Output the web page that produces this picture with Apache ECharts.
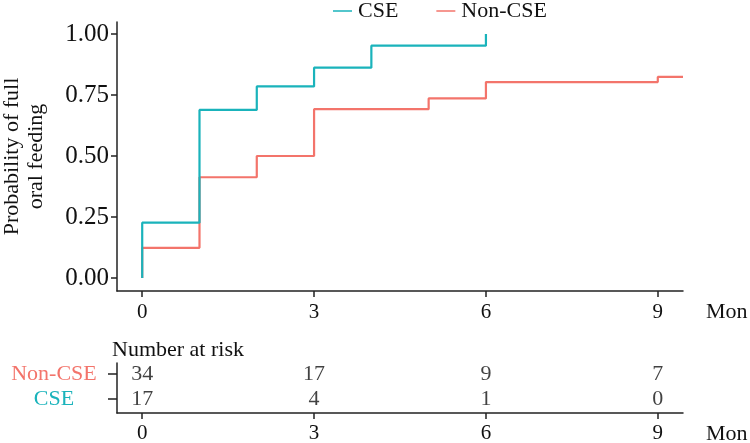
<!DOCTYPE html>
<html>
<head>
<meta charset="utf-8">
<script src="https://cdn.jsdelivr.net/npm/echarts@6/dist/echarts.min.js"></script>
<style>html,body{margin:0;padding:0;background:#fff}#c{width:750px;height:443px}</style>
</head>
<body>
<div id="c"></div>
<script>
// Kaplan-Meier step data (time in months, cumulative probability)
const cseTimes = [0, 0, 1, 2, 3, 4, 6];
const cseProb  = [0, 0.227, 0.689, 0.785, 0.862, 0.952, 1.0];
const nonTimes = [0, 0, 1, 2, 3, 5, 6, 9, 9.44];
const nonProb  = [0, 0.124, 0.413, 0.5, 0.692, 0.736, 0.803, 0.824, 0.824];
// Number at risk table
const riskTimes = [0, 3, 6, 9];
const riskNon   = [34, 17, 9, 7];
const riskCSE   = [17, 4, 1, 0];
// Axis ticks
const xTicks = [0, 3, 6, 9];
const yTicks = [0, 0.25, 0.5, 0.75, 1];
const groups = ['Non-CSE', 'CSE'];

const FONT = 'Liberation Serif';
const CSE_COLOR = '#1AB3BB';
const NON_COLOR = '#F3746B';
const AX = '#222';

const zip = (a, b) => a.map((v, i) => [v, b[i]]);

const chart = echarts.init(document.getElementById('c'), null, {renderer: 'canvas'});
chart.setOption({
  animation: false,
  backgroundColor: '#fff',
  textStyle: {fontFamily: FONT},
  legend: {
    data: ['CSE', 'Non-CSE'],
    left: 333, top: 0, padding: 0,
    icon: 'rect',
    itemWidth: 19, itemHeight: 1.5, itemGap: 38,
    textStyle: {fontFamily: FONT, fontSize: 22, color: '#111', padding: [0, 0, 0, 1]}
  },
  graphic: [{
    type: 'text', left: 112, top: 339,
    style: {text: 'Number at risk', font: '22px "Liberation Serif"', fill: '#111'}
  }],
  grid: [
    {left: 117, right: 67, top: 22, bottom: 152, outerBoundsMode: 'none', containLabel: false},
    {left: 117, right: 67, top: 363, bottom: 30, outerBoundsMode: 'none', containLabel: false}
  ],
  xAxis: [
    {
      gridIndex: 0, type: 'value', min: -0.44, max: 9.44,
      name: 'Mon', nameLocation: 'end', nameGap: 23,
      nameTextStyle: {fontFamily: FONT, fontSize: 22, color: '#111', verticalAlign: 'top', padding: [10, 0, 0, 0]},
      axisLine: {show: true, onZero: false, lineStyle: {color: AX, width: 1.5}},
      axisTick: {show: true, length: 6, lineStyle: {color: AX, width: 1.5}, customValues: xTicks},
      axisLabel: {fontFamily: FONT, fontSize: 21, color: '#111', margin: 11, customValues: xTicks},
      splitLine: {show: false}
    },
    {
      gridIndex: 1, type: 'value', min: -0.44, max: 9.44,
      name: 'Mon', nameLocation: 'end', nameGap: 23,
      nameTextStyle: {fontFamily: FONT, fontSize: 22, color: '#111', verticalAlign: 'top', padding: [10, 0, 0, 0]},
      axisLine: {show: true, onZero: false, lineStyle: {color: AX, width: 1.5}},
      axisTick: {show: true, length: 6, lineStyle: {color: AX, width: 1.5}, customValues: xTicks},
      axisLabel: {fontFamily: FONT, fontSize: 21, color: '#111', margin: 10, customValues: xTicks},
      splitLine: {show: false}
    }
  ],
  yAxis: [
    {
      gridIndex: 0, type: 'value', min: -0.053, max: 1.049,
      name: 'Probability of full\noral feeding', nameLocation: 'middle', nameGap: 69,
      nameTextStyle: {fontFamily: FONT, fontSize: 22, color: '#111', lineHeight: 24},
      axisLine: {show: true, onZero: false, lineStyle: {color: AX, width: 1.5}},
      axisTick: {show: true, length: 6, lineStyle: {color: AX, width: 1.5}, customValues: yTicks},
      axisLabel: {fontFamily: FONT, fontSize: 25, color: '#111', margin: 8, customValues: yTicks,
        formatter: v => v.toFixed(2)},
      splitLine: {show: false}
    },
    {
      gridIndex: 1, type: 'value', min: 0.44, max: 2.44,
      axisLine: {show: true, onZero: false, lineStyle: {color: AX, width: 1.5}},
      axisTick: {show: true, length: 9, lineStyle: {color: AX, width: 1.5}, customValues: [1, 2]},
      axisLabel: {margin: 18, customValues: [1, 2],
        formatter: v => v === 2 ? '{n|' + groups[0] + '}' : '{c|' + groups[1] + '}',
        rich: {
          n: {fontFamily: FONT, fontSize: 22, color: NON_COLOR, width: 90, align: 'center'},
          c: {fontFamily: FONT, fontSize: 22, color: CSE_COLOR, width: 90, align: 'center'}
        }},
      splitLine: {show: false}
    }
  ],
  series: [
    {
      name: 'Non-CSE', type: 'line', xAxisIndex: 0, yAxisIndex: 0,
      step: 'end', symbol: 'none', data: zip(nonTimes, nonProb),
      lineStyle: {color: NON_COLOR, width: 2.2}, itemStyle: {color: NON_COLOR}
    },
    {
      name: 'CSE', type: 'line', xAxisIndex: 0, yAxisIndex: 0,
      step: 'end', symbol: 'none', data: zip(cseTimes, cseProb),
      lineStyle: {color: CSE_COLOR, width: 2.2}, itemStyle: {color: CSE_COLOR}
    },
    {
      name: 'risk-non', type: 'scatter', xAxisIndex: 1, yAxisIndex: 1,
      symbolSize: 1, itemStyle: {color: 'rgba(0,0,0,0)'},
      data: riskTimes.map((t, i) => [t, 2, riskNon[i]]),
      label: {show: true, position: 'inside', formatter: p => String(p.value[2]),
        fontFamily: FONT, fontSize: 22, color: '#111'}
    },
    {
      name: 'risk-cse', type: 'scatter', xAxisIndex: 1, yAxisIndex: 1,
      symbolSize: 1, itemStyle: {color: 'rgba(0,0,0,0)'},
      data: riskTimes.map((t, i) => [t, 1, riskCSE[i]]),
      label: {show: true, position: 'inside', formatter: p => String(p.value[2]),
        fontFamily: FONT, fontSize: 22, color: '#111'}
    }
  ]
});
</script>
</body>
</html>
